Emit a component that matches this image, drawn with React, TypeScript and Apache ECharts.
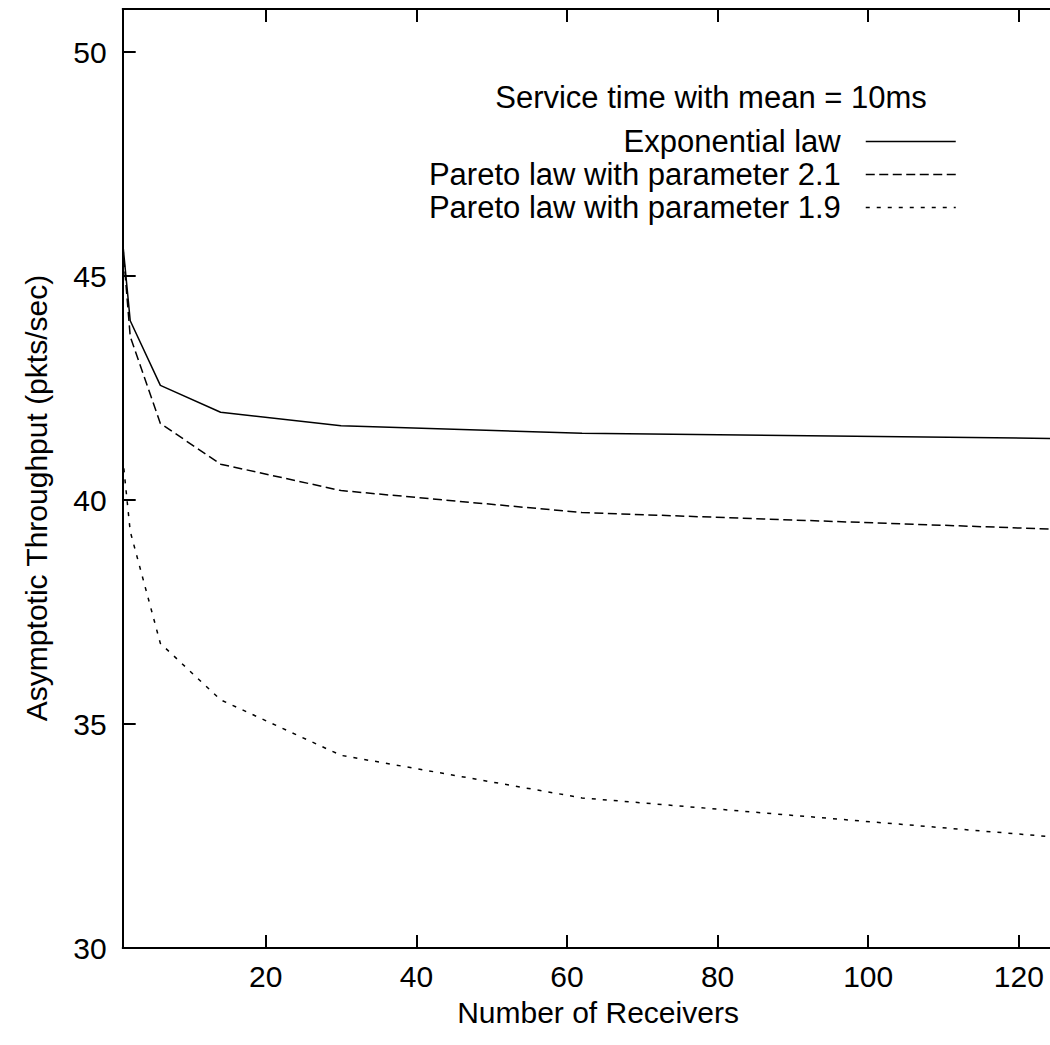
import React, { useEffect, useRef } from "react";
import * as echarts from "echarts";

// ---- data ----
const receivers = [1, 2, 6, 14, 30, 62, 126];
const exponentialLaw = [45.75, 44.0, 42.56, 41.96, 41.66, 41.49, 41.37];
const pareto21 = [45.7, 43.65, 41.71, 40.8, 40.21, 39.72, 39.34];
const pareto19 = [40.95, 39.3, 36.8, 35.54, 34.3, 33.35, 32.46];
const xTicks = [20, 40, 60, 80, 100, 120];
const yTicks = [30, 35, 40, 45, 50];
const seriesNames = [
  "Exponential law",
  "Pareto law with parameter 2.1",
  "Pareto law with parameter 1.9",
];
const keyTitle = "Service time with mean = 10ms";
const xName = "Number of Receivers";
const yName = "Asymptotic Throughput (pkts/sec)";

const W = 1090;
const H = 1045;
const FONT = "'Liberation Sans', Arial, Helvetica, sans-serif";
const FS = 30;
const FS_KEY = 31;

const dashes: any[] = ["solid", [9, 4.5], [4, 7]];
const rowY = [141, 174, 207];

function buildOption() {
  const seriesData = [exponentialLaw, pareto21, pareto19];
  const axisLine = { show: true, lineStyle: { color: "#000", width: 2 } };
  const tick = (vals: number[]) => ({
    show: true,
    inside: true,
    length: 13,
    customValues: vals,
    lineStyle: { color: "#000", width: 2 },
  });
  return {
    animation: false,
    backgroundColor: "#fff",
    grid: { left: 122.7, right: W - 1064, top: 9, bottom: H - 948, containLabel: false },
    xAxis: [
      {
        type: "value",
        min: 1,
        max: 126,
        position: "bottom",
        axisLine,
        axisTick: tick(xTicks),
        axisLabel: {
          customValues: xTicks,
          fontSize: FS,
          fontFamily: FONT,
          color: "#000",
          margin: 13,
        },
        splitLine: { show: false },
      },
      {
        type: "value",
        min: 1,
        max: 126,
        position: "top",
        axisLine,
        axisTick: tick(xTicks),
        axisLabel: { show: false },
        splitLine: { show: false },
      },
    ],
    yAxis: [
      {
        type: "value",
        min: 30,
        max: 50.96,
        position: "left",
        axisLine,
        axisTick: tick(yTicks),
        axisLabel: {
          customValues: yTicks,
          fontSize: FS,
          fontFamily: FONT,
          color: "#000",
          margin: 16,
        },
        splitLine: { show: false },
      },
      {
        type: "value",
        min: 30,
        max: 50.96,
        position: "right",
        axisLine,
        axisTick: tick(yTicks),
        axisLabel: { show: false },
        splitLine: { show: false },
      },
    ],
    legend: seriesNames.map((n, i) => ({
      data: [n],
      orient: "vertical",
      align: "right",
      right: W - 956.5,
      top: rowY[i] - 15,
      itemWidth: 90,
      itemHeight: 14,
      padding: 0,
      selectedMode: false,
      textStyle: {
        fontSize: FS_KEY,
        fontFamily: FONT,
        color: "#000",
        lineHeight: 30,
        padding: [0, 20, 0, 0],
      },
      itemStyle: { opacity: 0, borderWidth: 0 },
      lineStyle: { color: "#000", width: 1.5, type: dashes[i] },
    })),
    graphic: [
      {
        type: "text",
        x: 711,
        y: 97,
        style: {
          text: keyTitle,
          fontSize: FS_KEY,
          fontFamily: FONT,
          fill: "#000",
          align: "center",
          verticalAlign: "middle",
        },
      },
      {
        type: "text",
        x: 598,
        y: 1012,
        style: {
          text: xName,
          fontSize: FS,
          fontFamily: FONT,
          fill: "#000",
          align: "center",
          verticalAlign: "middle",
        },
      },
      {
        type: "text",
        x: 36,
        y: 498,
        rotation: Math.PI / 2,
        style: {
          text: yName,
          fontSize: FS,
          fontFamily: FONT,
          fill: "#000",
          align: "center",
          verticalAlign: "middle",
        },
      },
    ],
    series: seriesData.map((vals, i) => ({
      name: seriesNames[i],
      type: "line",
      data: receivers.map((x, j) => [x, vals[j]]),
      showSymbol: false,
      symbol: "none",
      clip: true,
      lineStyle: { color: "#000", width: 1.5, type: dashes[i] },
      itemStyle: { color: "#000" },
    })),
  };
}

export default function App() {
  const ref = useRef<HTMLDivElement>(null);
  useEffect(() => {
    if (!ref.current) return;
    const chart = echarts.init(ref.current, null, { renderer: "svg", width: W, height: H });
    chart.setOption(buildOption() as any);
    return () => chart.dispose();
  }, []);
  return (
    <div
      style={{
        position: "fixed",
        left: 0,
        top: 0,
        width: 1050,
        height: 1045,
        overflow: "hidden",
        background: "#fff",
      }}
    >
      <div ref={ref} style={{ width: W, height: H }} />
    </div>
  );
}
